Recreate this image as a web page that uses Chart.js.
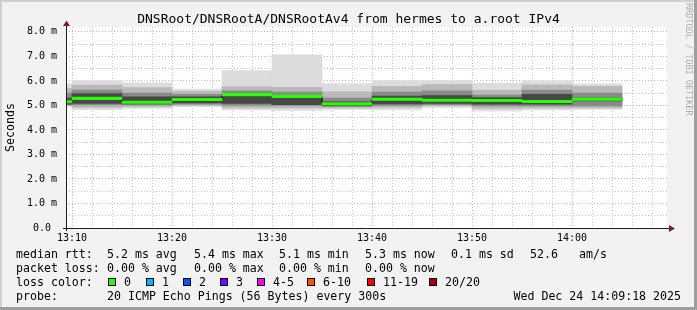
<!DOCTYPE html>
<html>
<head>
<meta charset="utf-8">
<title>DNSRoot/DNSRootA/DNSRootAv4 from hermes to a.root IPv4</title>
<script src="https://cdn.jsdelivr.net/npm/chart.js@4.4.1/dist/chart.umd.min.js"></script>
<style>
  html, body { margin: 0; padding: 0; background: #f2f2f2; }
  canvas { display: block; }
</style>
</head>
<body>
<canvas id="smokeChart" width="697" height="310"></canvas>
<script>
// 5 minute slots (start time), the first one is only partly visible
const slotStarts = ["13:05", "13:10", "13:15", "13:20", "13:25", "13:30",
                    "13:35", "13:40", "13:45", "13:50", "13:55", "14:00"];

// median rtt per slot (ms)
const medianRtt = [5.15, 5.29, 5.13, 5.24, 5.44, 5.37, 5.07, 5.25, 5.21, 5.20, 5.16, 5.25];

// smoke: spread of the 20 pings per slot, outer to inner (ms)
const smokeMin  = [4.95, 4.83, 4.88, 4.95, 4.82, 4.80, 4.84, 4.83, 4.92, 4.78, 4.82, 4.84];
const smokeMax  = [5.88, 6.01, 5.92, 5.67, 6.42, 7.06, 5.89, 6.01, 6.01, 5.90, 6.00, 5.88];
const smokeLo2  = [5.00, 4.92, 4.95, 5.00, 4.90, 4.90, 4.90, 4.92, 4.98, 4.88, 4.90, 4.90];
const smokeHi2  = [5.70, 5.83, 5.73, 5.58, 5.77, 5.74, 5.56, 5.78, 5.85, 5.63, 5.84, 5.78];
const smokeLo3  = [5.03, 5.02, 5.02, 5.05, 5.00, 5.00, 4.96, 5.00, 5.03, 4.98, 4.98, 4.98];
const smokeHi3  = [5.50, 5.63, 5.50, 5.45, 5.60, 5.55, 5.30, 5.55, 5.60, 5.42, 5.63, 5.50];
const smokeLo4  = [5.05, 5.08, 5.06, 5.10, 5.08, 5.03, 5.00, 5.06, 5.08, 5.05, 5.05, 5.18];
const smokeHi4  = [5.30, 5.48, 5.35, 5.35, 5.45, 5.40, 5.15, 5.38, 5.40, 5.32, 5.45, 5.30];

// axes
const viewStart = "13:09:24";
const viewEnd = "14:09:30";
const xLabels = ["13:10", "13:20", "13:30", "13:40", "13:50", "14:00"];
const yGridTicks = [0, 0.5, 1, 1.5, 2, 2.5, 3, 3.5, 4, 4.5, 5, 5.5, 6, 6.5, 7, 7.5, 8];
const yMajor = [0, 1, 2, 3, 4, 5, 6, 7, 8];
const yLabels = ["0.0 ", "1.0 m", "2.0 m", "3.0 m", "4.0 m", "5.0 m", "6.0 m", "7.0 m", "8.0 m"];
const yMax = 8.2;

// legend text
const statNames = ["avg", "max", "min", "now"];
const rttStats = [5.2, 5.4, 5.1, 5.3];
const rttSd = 0.1;
const rttAmS = 52.6;
const lossStats = [0, 0, 0, 0];
const lossLabels = ["0", "1", "2", "3", "4-5", "6-10", "11-19", "20/20"];
const lossColors = ["#26ff00", "#00b8ff", "#0059ff", "#7e00ff", "#ff00ff", "#ff5500", "#ff0000", "#a10000"];
const probeText = "20 ICMP Echo Pings (56 Bytes) every 300s";
const stampText = "Wed Dec 24 14:09:18 2025";
const titleText = "DNSRoot/DNSRootA/DNSRootAv4 from hermes to a.root IPv4";

const MONO = '"DejaVu Sans Mono", monospace';
const MED_HALF = 0.05; // half thickness of the median line, in ms

function toMin(t) {
  const p = t.split(":").map(Number);
  return p[0] * 60 + p[1] + (p[2] || 0) / 60;
}
function fmtMin(v) {
  const h = Math.floor(v / 60), m = Math.round(v - h * 60);
  return h + ":" + String(m).padStart(2, "0");
}

const slotMid = slotStarts.map(t => toMin(t) + 2.5);
const band = (lo, hi) => slotMid.map((x, i) => ({ x, y: [lo[i], hi[i]] }));

const barCommon = {
  type: "bar",
  stack: "smoke",
  barThickness: "flex",
  barPercentage: 1,
  categoryPercentage: 1,
  borderWidth: 0
};

const xGrid = [];
for (let m = Math.ceil(toMin(viewStart) / 2) * 2; m < toMin(viewEnd); m += 2) xGrid.push(m);

const frame = {
  id: "frame",
  beforeDraw(chart) {
    const { ctx, chartArea: a, width, height } = chart;
    ctx.save();
    ctx.fillStyle = "#f2f2f2";
    ctx.fillRect(0, 0, width, height);
    ctx.fillStyle = "#cfcfcf";
    ctx.fillRect(0, 0, width, 2);
    ctx.fillRect(0, 0, 2, height);
    ctx.fillStyle = "#9e9e9e";
    ctx.fillRect(0, height - 3, width, 3);
    ctx.fillRect(width - 3, 0, 3, height);
    ctx.fillStyle = "#ffffff";
    ctx.fillRect(a.left, a.top, a.right - a.left, a.bottom - a.top);
    ctx.restore();
  },
  afterDraw(chart) {
    const { ctx, chartArea: a, width } = chart;
    ctx.save();

    // axes with arrows
    ctx.strokeStyle = "#1f1f1f";
    ctx.lineWidth = 1;
    ctx.beginPath();
    ctx.moveTo(a.left - 3, a.bottom + 0.5);
    ctx.lineTo(a.right + 3, a.bottom + 0.5);
    ctx.moveTo(a.left + 0.5, a.bottom + 3);
    ctx.lineTo(a.left + 0.5, a.top - 2);
    ctx.stroke();
    ctx.fillStyle = "#801f1f";
    ctx.beginPath();
    ctx.moveTo(a.right + 2, a.bottom - 3);
    ctx.lineTo(a.right + 8, a.bottom + 0.5);
    ctx.lineTo(a.right + 2, a.bottom + 4);
    ctx.closePath();
    ctx.fill();
    ctx.beginPath();
    ctx.moveTo(a.left - 3, a.top - 1);
    ctx.lineTo(a.left + 0.5, a.top - 6.5);
    ctx.lineTo(a.left + 4, a.top - 1);
    ctx.closePath();
    ctx.fill();

    // title
    ctx.fillStyle = "#000";
    ctx.textBaseline = "alphabetic";
    ctx.font = "13px " + MONO;
    ctx.textAlign = "center";
    ctx.fillText(titleText, width / 2, 23);

    // legend
    ctx.font = "11.6px " + MONO;
    ctx.textAlign = "left";
    const colX = [107, 194, 279, 365];
    ctx.fillText("median rtt:", 16, 258);
    rttStats.forEach((v, i) => ctx.fillText(v.toFixed(1) + " ms " + statNames[i], colX[i], 258));
    ctx.fillText(rttSd.toFixed(1) + " ms sd", 451, 258);
    ctx.fillText(rttAmS.toFixed(1), 530, 258);
    ctx.fillText("am/s", 579, 258);

    ctx.fillText("packet loss:", 16, 272);
    lossStats.forEach((v, i) => ctx.fillText(v.toFixed(2) + " % " + statNames[i], colX[i], 272));

    ctx.fillText("loss color:", 16, 286);
    const lossX = [124, 162, 199, 236, 273, 323, 383, 445];
    lossLabels.forEach((lab, i) => {
      const sx = lossX[i] - 16;
      ctx.fillStyle = lossColors[i];
      ctx.fillRect(sx, 278, 8, 8);
      ctx.strokeStyle = "#000";
      ctx.strokeRect(sx + 0.5, 278.5, 7, 7);
      ctx.fillStyle = "#000";
      ctx.fillText(lab, lossX[i], 286);
    });

    ctx.fillText("probe:", 16, 300);
    ctx.fillText(probeText, 107, 300);
    ctx.textAlign = "right";
    ctx.fillText(stampText, 681, 300);

    // watermark
    ctx.translate(688, 3);
    ctx.rotate(Math.PI / 2);
    ctx.textAlign = "left";
    ctx.textBaseline = "middle";
    ctx.font = "8.5px " + MONO;
    ctx.fillStyle = "rgba(0,0,0,0.3)";
    ctx.fillText("RRDTOOL / TOBI OETIKER", 0, 0);
    ctx.restore();
  }
};

Chart.defaults.font.family = MONO;
Chart.defaults.color = "#000";

new Chart(document.getElementById("smokeChart"), {
  type: "bar",
  data: {
    datasets: [
      { ...barCommon, label: "median rtt",
        data: slotMid.map((x, i) => ({ x, y: [medianRtt[i] - MED_HALF, medianRtt[i] + MED_HALF] })),
        backgroundColor: lossColors[0] },
      { type: "line", label: "median step",
        data: slotMid.map((x, i) => ({ x, y: medianRtt[i] })),
        stepped: "middle", borderColor: "#000", borderWidth: 1, pointRadius: 0, fill: false },
      { ...barCommon, label: "smoke 4", data: band(smokeLo4, smokeHi4), backgroundColor: "#474747" },
      { ...barCommon, label: "smoke 3", data: band(smokeLo3, smokeHi3), backgroundColor: "#8a8a8a" },
      { ...barCommon, label: "smoke 2", data: band(smokeLo2, smokeHi2), backgroundColor: "#b9b9b9" },
      { ...barCommon, label: "smoke 1", data: band(smokeMin, smokeMax), backgroundColor: "#dcdcdc" }
    ]
  },
  options: {
    responsive: false,
    animation: false,
    events: [],
    layout: { padding: { top: 27, right: 30, bottom: 62, left: 0 } },
    plugins: { legend: { display: false }, tooltip: { enabled: false } },
    scales: {
      x: {
        type: "linear",
        offset: false,
        min: toMin(viewStart),
        max: toMin(viewEnd),
        z: 1,
        afterBuildTicks: s => { s.ticks = xGrid.map(v => ({ value: v })); },
        afterFit: s => { s.height = 20; },
        grid: {
          offset: false,
          drawTicks: false,
          color: c => xLabels.includes(fmtMin(c.tick.value)) ? "rgba(222,79,79,0.5)" : "rgba(143,143,143,0.5)"
        },
        border: { display: false, dash: [1, 2] },
        ticks: {
          autoSkip: false,
          maxRotation: 0,
          padding: 4,
          font: { size: 10 },
          callback: v => xLabels.includes(fmtMin(v)) ? fmtMin(v) : ""
        }
      },
      y: {
        min: 0,
        max: yMax,
        stacked: false,
        z: 1,
        afterBuildTicks: s => { s.ticks = yGridTicks.map(v => ({ value: v })); },
        afterFit: s => { s.width = 66; },
        grid: {
          drawTicks: false,
          color: c => yMajor.includes(c.tick.value) ? "rgba(222,79,79,0.5)" : "rgba(143,143,143,0.5)"
        },
        border: { display: false, dash: [1, 2] },
        title: { display: true, text: "Seconds", font: { size: 11.6 }, padding: { top: 4, bottom: 0 } },
        ticks: {
          autoSkip: false,
          padding: 9,
          font: { size: 10 },
          callback: v => { const i = yMajor.indexOf(v); return i >= 0 ? yLabels[i] : ""; }
        }
      }
    }
  },
  plugins: [frame]
});
</script>
</body>
</html>
